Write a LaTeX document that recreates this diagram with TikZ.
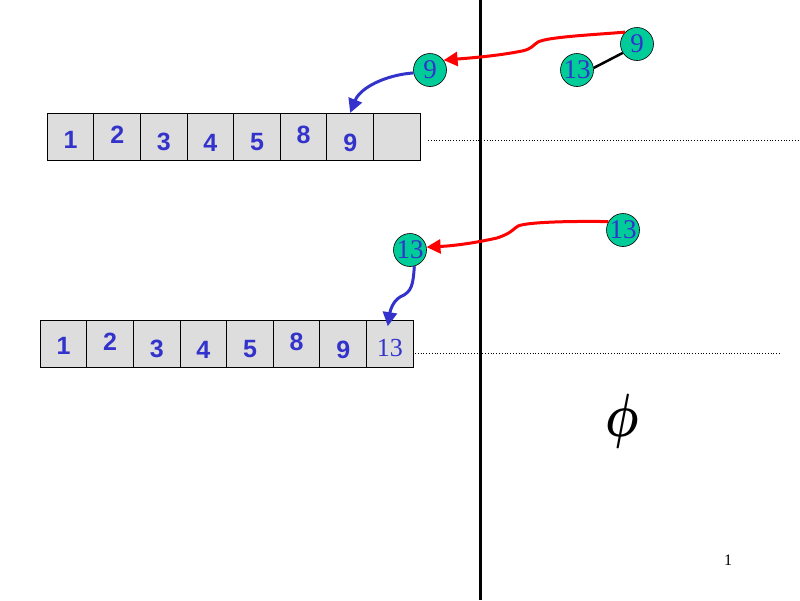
\documentclass[tikz,border=0pt]{standalone}
\usepackage{bm}
\usepackage{fontspec}
\setmainfont{Liberation Serif}
\newfontfamily\arialfont{Liberation Sans}
\usetikzlibrary{arrows.meta}
\definecolor{dblue}{RGB}{51,51,204}
\definecolor{cgreen}{RGB}{0,204,153}
\definecolor{cgray}{RGB}{221,221,221}
\begin{document}
\begin{tikzpicture}[x=1pt,y=-1pt,
  cell/.style={draw=black, fill=cgray, minimum width=46.6pt, minimum height=46.7pt, inner sep=0pt, line width=0.9pt},
  digit/.style={text=dblue, font=\arialfont\bfseries\fontsize{25}{25}\selectfont, inner sep=0pt},
  sdigit/.style={text=dblue, font=\fontsize{26}{26}\selectfont, inner sep=0pt},
  circ/.style={circle, draw=black, fill=cgreen, minimum size=33pt, inner sep=0pt, line width=0.6pt, text=dblue, font=\fontsize{27}{27}\selectfont},
  redarrow/.style={draw=red, line width=3pt, -{Triangle[length=14pt,width=14pt]}},
  bluearrow/.style={draw=dblue, line width=3pt, -{Triangle[length=14pt,width=14pt]}},
  dotline/.style={draw=black, dotted, line width=0.8pt}
]
\useasboundingbox (0,0) rectangle (800,600);
\fill[white] (0,0) rectangle (800,600);

% vertical divider
\draw[line width=3pt] (480,0) -- (480,600);

% top array
\foreach \i/\d/\o in {1/1/3.5,2/2/-1.5,3/3/5.5,4/4/6,5/5/5.5,6/8/-1.5,7/9/6}{
  \node[cell] (t\i) at ({47.3+23.3+46.6*(\i-1)},136.7) {};
  \node[digit] (td\i) at ([yshift=-\o pt]t\i.center) {\d};
}
\node[cell] (t8) at ({47.3+23.3+46.6*7},136.7) {};

% bottom array
\foreach \i/\d/\o in {1/1/2,2/2/-2,3/3/5,4/4/6,5/5/5,6/8/-2,7/9/6}{
  \node[cell] (b\i) at ({40.3+23.3+46.6*(\i-1)},344) {};
  \node[digit] (bd\i) at ([yshift=-\o pt]b\i.center) {\d};
}
\node[cell] (b8) at ({40.3+23.3+46.6*7},344) {};
\node[sdigit] (bd8) at ([yshift=-4pt]b8.center) {13};

% dotted lines
\coordinate (dt1) at (428,140);
\coordinate (dt2) at (800,140);
\coordinate (db1) at (415,353);
\coordinate (db2) at (780,353);
\draw[dotline] (dt1) -- (dt2);
\draw[dotline] (db1) -- (db2);

% circles
\node[circ] (c9l) at (430,70) {9};
\node[circ] (c9r) at (637,44) {9};
\node[circ] (c13t) at (577,70) {13};
\node[circ] (c13l) at (410,250) {13};
\node[circ] (c13r) at (623,230) {13};

% tree edge
\draw[line width=2.5pt] (c13t.7) -- (c9r.212);

% red arrows
\draw[redarrow] (c9r.135) .. controls (590,35) and (548,37) .. (538,42)
  .. controls (533,45) and (532,49) .. (522,51)
  .. controls (497,56) and (470,58) .. (c9l.36);
\draw[redarrow] (c13r.150) .. controls (570,221) and (528,222) .. (518,226)
  .. controls (513,229) and (512,233) .. (497,238)
  .. controls (470,244) and (450,246) .. (c13l.10);

% blue arrows
\draw[bluearrow] (c9l.190) .. controls (385,75) and (360,88) .. (t7.north);
\coordinate (tip2) at ([yshift=-6pt,xshift=-2pt]b8.north);
\draw[bluearrow] (c13l.-75) .. controls (413,285) and (412,292) .. (400,297)
  .. controls (392,302) and (390,312) .. (tip2);

% empty set symbol
\node[xscale=4.7, yscale=6.1, inner sep=0pt] (phi) at (622,421) {$\bm{\phi}$};

% page number
\node[font=\fontsize{16}{16}\selectfont, inner sep=0pt] (pg) at (728,560) {1};
\end{tikzpicture}
\end{document}
